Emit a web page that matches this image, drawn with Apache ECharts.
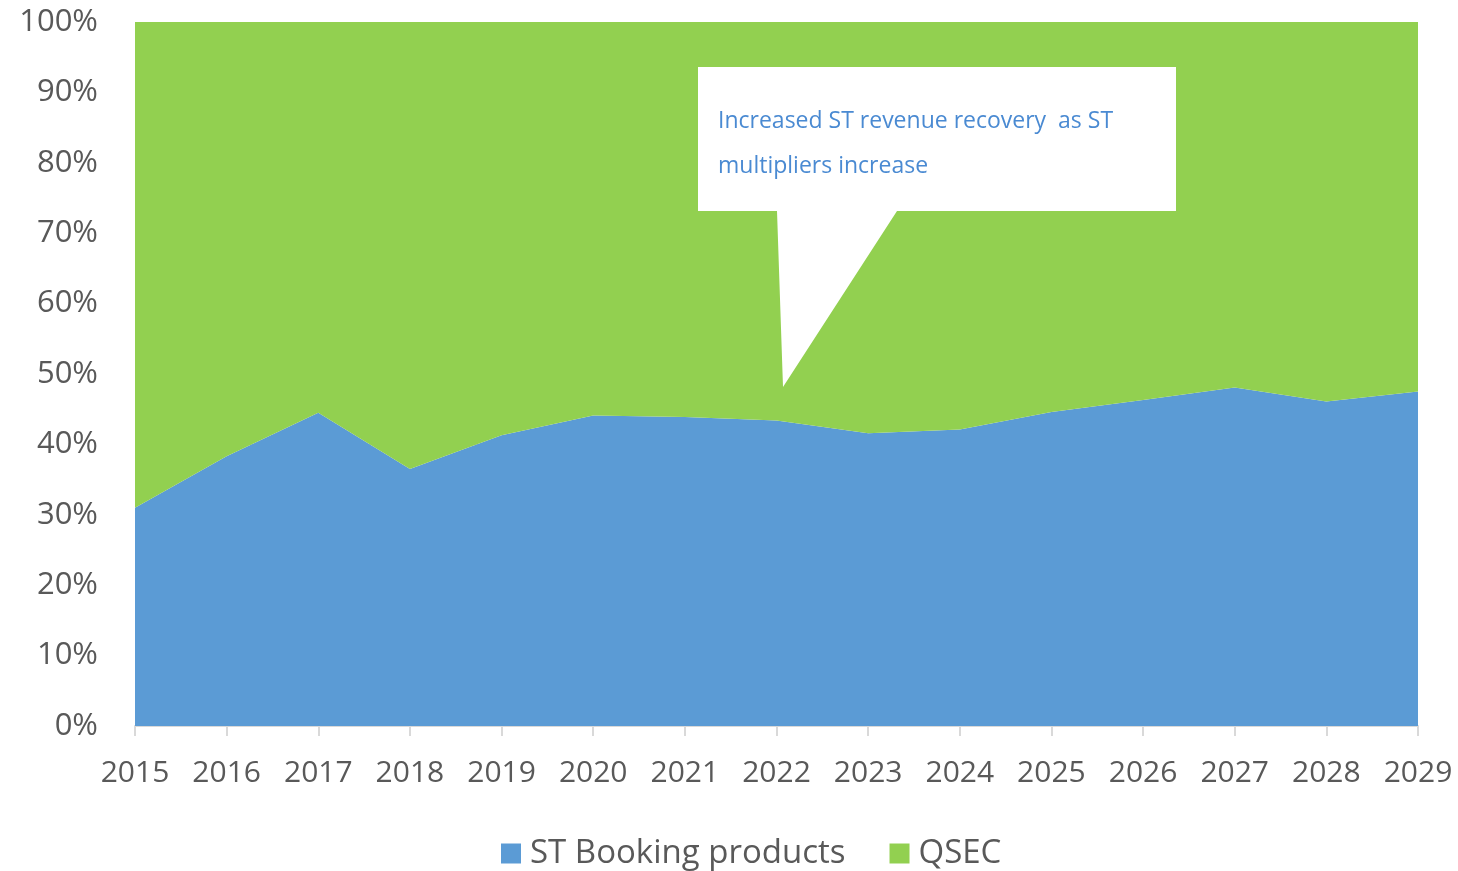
<!DOCTYPE html>
<html>
<head>
<meta charset="utf-8">
<script src="https://cdn.jsdelivr.net/npm/echarts@6/dist/echarts.min.js"></script>
<style>
  html, body { margin: 0; padding: 0; background: #ffffff; }
  #chart { width: 1458px; height: 871px; }
</style>
</head>
<body>
<div id="chart"></div>
<script>
// Years on the category axis
var years = ['2015', '2016', '2017', '2018', '2019', '2020', '2021', '2022',
             '2023', '2024', '2025', '2026', '2027', '2028', '2029'];

// Share of revenue (%) from ST booking products
var stBooking = [31.0, 38.3, 44.5, 36.5, 41.3, 44.1, 43.9, 43.4,
                 41.6, 42.1, 44.6, 46.3, 48.1, 46.1, 47.5];

// Share of revenue (%) from QSEC (remainder to 100%)
var qsec = [69.0, 61.7, 55.5, 63.5, 58.7, 55.9, 56.1, 56.6,
            58.4, 57.9, 55.4, 53.7, 51.9, 53.9, 52.5];

var seriesNames = ['ST Booking products', 'QSEC'];
var calloutLines = ['Increased ST revenue recovery  as ST', 'multipliers increase'];

var textGray = '#595959';
var fontFamily = '"Open Sans", "Liberation Sans", sans-serif';

var chart = echarts.init(document.getElementById('chart'), null, { renderer: 'canvas' });

chart.setOption({
  animation: false,
  backgroundColor: '#ffffff',
  color: ['#5b9bd5', '#92d050'],
  grid: { left: 135, right: 40, top: 22, bottom: 145, containLabel: false },
  legend: {
    data: seriesNames,
    top: 832,
    left: 496,
    itemWidth: 20,
    itemHeight: 20,
    itemGap: 44,
    icon: 'rect',
    textStyle: { color: textGray, fontSize: 33, fontFamily: fontFamily, padding: [0, 0, 0, 4] }
  },
  xAxis: {
    type: 'category',
    data: years,
    boundaryGap: false,
    axisLine: { lineStyle: { color: '#d9d9d9', width: 2 } },
    axisTick: { show: true, length: 10, alignWithLabel: true, lineStyle: { color: '#d9d9d9', width: 2 } },
    axisLabel: { color: textGray, fontSize: 30, fontFamily: fontFamily, margin: 32 }
  },
  yAxis: {
    type: 'value',
    min: 0,
    max: 100,
    interval: 10,
    axisLine: { show: false },
    axisTick: { show: false },
    splitLine: { lineStyle: { color: '#d9d9d9', width: 1 } },
    axisLabel: { color: textGray, fontSize: 31, fontFamily: fontFamily, margin: 37,
                 formatter: '{value}%' }
  },
  series: [
    {
      name: seriesNames[0],
      type: 'line',
      stack: 'share',
      data: stBooking,
      symbol: 'none',
      lineStyle: { width: 0 },
      areaStyle: { color: '#5b9bd5', opacity: 1 }
    },
    {
      name: seriesNames[1],
      type: 'line',
      stack: 'share',
      data: qsec,
      symbol: 'none',
      lineStyle: { width: 0 },
      areaStyle: { color: '#92d050', opacity: 1 }
    }
  ],
  graphic: [
    {
      type: 'polygon',
      z: 100,
      shape: {
        points: [[698, 67], [1176, 67], [1176, 211], [897, 211], [783, 387], [777, 211], [698, 211]]
      },
      style: { fill: '#ffffff' }
    },
    {
      type: 'text',
      z: 101,
      left: 718,
      top: 110,
      style: {
        text: calloutLines[0],
        fill: '#4a8ad2',
        font: '23px ' + fontFamily
      }
    },
    {
      type: 'text',
      z: 101,
      left: 718,
      top: 155,
      style: {
        text: calloutLines[1],
        fill: '#4a8ad2',
        font: '23px ' + fontFamily
      }
    }
  ]
});
</script>
</body>
</html>
